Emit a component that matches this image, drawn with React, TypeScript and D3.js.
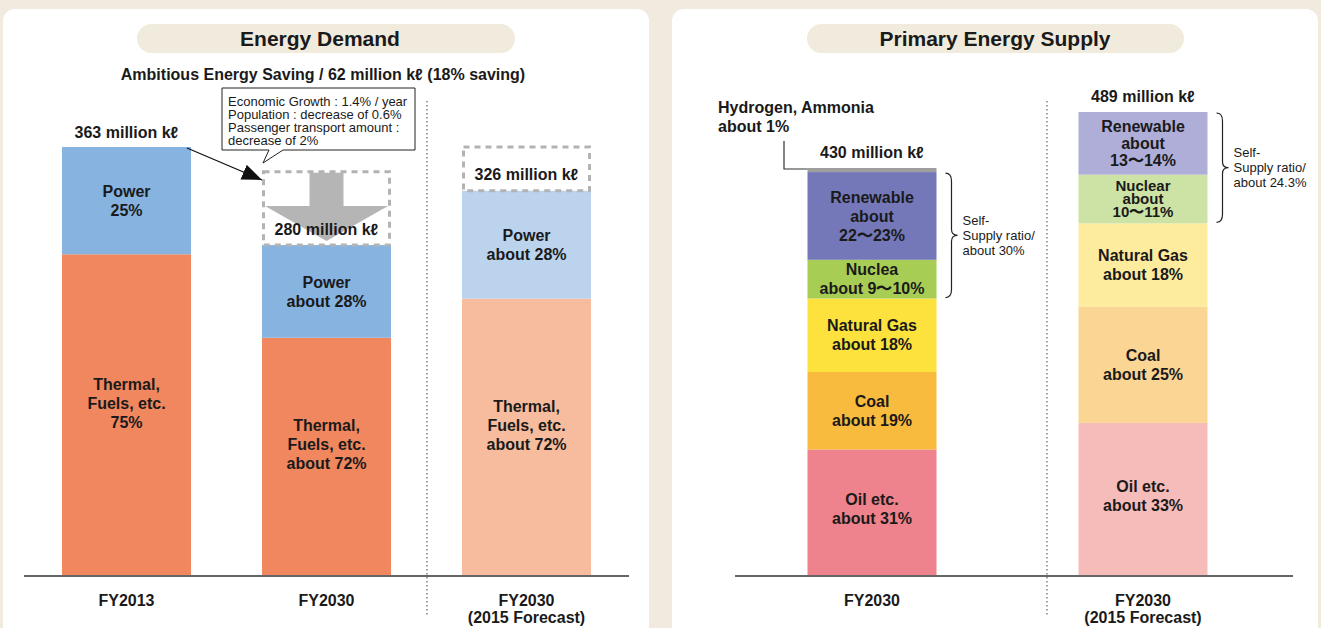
import React from "react";
import * as d3 from "d3";

// ---------- DATA ----------
const demandCategories = ["FY2013", "FY2030", "FY2030 (2015 Forecast)"];
const demandAxisLabels = [["FY2013"], ["FY2030"], ["FY2030", "(2015 Forecast)"]];
const demandTotals = [363, 280, 326];
const powerShare = [25, 28, 28];
const thermalShare = [75, 72, 72];
const demandRefLevels = [0, 342, 363];
const demandTotalLabels = ["363 million kℓ", "280 million kℓ", "326 million kℓ"];
const powerLabels = [["Power", "25%"], ["Power", "about 28%"], ["Power", "about 28%"]];
const thermalLabels = [
  ["Thermal,", "Fuels, etc.", "75%"],
  ["Thermal,", "Fuels, etc.", "about 72%"],
  ["Thermal,", "Fuels, etc.", "about 72%"],
];
const calloutLines = [
  "Economic Growth : 1.4% / year",
  "Population : decrease of 0.6%",
  "Passenger transport amount :",
  "decrease of 2%",
];

const supplyCategories = ["FY2030", "FY2030 (2015 Forecast)"];
const supplyAxisLabels = [["FY2030"], ["FY2030", "(2015 Forecast)"]];
const supplyTotals = [430, 489];
const supplyTotalLabels = ["430 million kℓ", "489 million kℓ"];
const oilShare = [31, 33];
const coalShare = [19, 25];
const gasShare = [18, 18];
const nuclearShare = [9.5, 10.5];
const renewableShare = [21.5, 13.5];
const hydrogenShare = [1, 0];
const oilLabels = [["Oil etc.", "about 31%"], ["Oil etc.", "about 33%"]];
const coalLabels = [["Coal", "about 19%"], ["Coal", "about 25%"]];
const gasLabels = [["Natural Gas", "about 18%"], ["Natural Gas", "about 18%"]];
const nuclearLabels = [["Nuclea", "about 9〜10%"], ["Nuclear", "about", "10〜11%"]];
const renewableLabels = [["Renewable", "about", "22〜23%"], ["Renewable", "about", "13〜14%"]];
const selfSupplyLabels = [["Self-", "Supply ratio/", "about 30%"], ["Self-", "Supply ratio/", "about 24.3%"]];

// ---------- STYLE ----------
const FONT = "'Liberation Sans', Arial, sans-serif";
const BG = "#f1ebdf";
const PILL = "#f1ebdd";
const TXT = "#1a1a1a";
const LBL = 16;
const demandColors = [
  { power: "#86b3e0", thermal: "#f0875e" },
  { power: "#86b3e0", thermal: "#f0875e" },
  { power: "#bcd3ee", thermal: "#f6bc9d" },
];
const supplyColors = [
  { oil: "#ee828d", coal: "#f9bb3d", gas: "#fde23e", nuclear: "#a8cd55", renewable: "#7478b8", hydrogen: "#9e9e9e" },
  { oil: "#f5bcb9", coal: "#fbd594", gas: "#fdeb9e", nuclear: "#cde3a5", renewable: "#aeaed8", hydrogen: "#9e9e9e" },
];

const BAR_W = 129;
const BASE = 576;

function Lines({ x, cy, lines, size = LBL, lh = 19, weight = "bold", anchor = "middle" }: any) {
  const n = lines.length;
  return (
    <text x={x} textAnchor={anchor} fontFamily={FONT} fontSize={size} fontWeight={weight} fill={TXT}>
      {lines.map((l: string, i: number) => (
        <tspan key={i} x={x} y={cy + (i - (n - 1) / 2) * lh} dy="0.35em">
          {l}
        </tspan>
      ))}
    </text>
  );
}

function Brace({ x, y0, y1, w }: any) {
  const ym = (y0 + y1) / 2;
  const h = w / 2;
  const d = `M${x},${y0} Q${x + h},${y0} ${x + h},${y0 + 8} L${x + h},${ym - 6} Q${x + h},${ym} ${x + w},${ym} Q${x + h},${ym} ${x + h},${ym + 6} L${x + h},${y1 - 8} Q${x + h},${y1} ${x},${y1}`;
  return <path d={d} fill="none" stroke="#222" strokeWidth={1.2} />;
}

export default function App() {
  const xL = d3.scalePoint<string>().domain(demandCategories).range([126.5, 526.5]);
  const yL = d3.scaleLinear().domain([0, 363]).range([BASE, 147]);
  const xR = d3.scalePoint<string>().domain(supplyCategories).range([872, 1143]);
  const yR = d3.scaleLinear().domain([0, 489]).range([BASE, 112]);

  const demandBars = demandCategories.map((c, i) => {
    const cx = xL(c)!;
    const total = demandTotals[i];
    const thermal = (total * thermalShare[i]) / 100;
    const power = (total * powerShare[i]) / 100;
    return { c, i, cx, x0: cx - BAR_W / 2, yTop: yL(total), yMid: yL(thermal), yPowerTop: yL(thermal + power) };
  });

  const supplyBars = supplyCategories.map((c, i) => {
    const cx = xR(c)!;
    const total = supplyTotals[i];
    const shares = [
      { key: "oil", v: oilShare[i], labels: oilLabels[i] },
      { key: "coal", v: coalShare[i], labels: coalLabels[i] },
      { key: "gas", v: gasShare[i], labels: gasLabels[i] },
      { key: "nuclear", v: nuclearShare[i], labels: nuclearLabels[i] },
      { key: "renewable", v: renewableShare[i], labels: renewableLabels[i] },
      { key: "hydrogen", v: hydrogenShare[i], labels: [] as string[] },
    ];
    let acc = 0;
    const segs = shares.map((s) => {
      const a = acc;
      acc += s.v;
      return { ...s, y0: yR((total * a) / 100), y1: yR((total * acc) / 100) };
    });
    return { c, i, cx, x0: cx - BAR_W / 2, segs, yTop: yR(total) };
  });

  return (
    <svg width={1321} height={628} style={{ position: "absolute", left: 0, top: 0, display: "block" }}>
      <defs>
        <marker id="ah2" viewBox="0 0 20 16" refX="20" refY="8" markerWidth="20" markerHeight="16" orient="auto" markerUnits="userSpaceOnUse">
          <path d="M0,0 L20,8 L0,16 z" fill="#111" />
        </marker>
      </defs>
      <rect x={0} y={0} width={1321} height={628} fill={BG} />
      <rect x={3} y={9} width={646} height={640} rx={12} fill="#fff" />
      <rect x={672} y={9} width={646} height={640} rx={12} fill="#fff" />

      {/* ===== LEFT PANEL ===== */}
      <rect x={137} y={24} width={378} height={29} rx={14.5} fill={PILL} />
      <text x={320} y={39} dy="0.35em" textAnchor="middle" fontFamily={FONT} fontSize={21} fontWeight="bold" fill={TXT}>
        Energy Demand
      </text>
      <text x={323} y={74} dy="0.35em" textAnchor="middle" fontFamily={FONT} fontSize={16} fontWeight="bold" fill={TXT}>
        Ambitious Energy Saving / 62 million kℓ (18% saving)
      </text>

      <line x1={427} x2={427} y1={101} y2={615} stroke="#a8a290" strokeWidth={2} strokeDasharray="1.5 2.5" />

      {demandBars.map((b) => (
        <g key={b.c}>
          <rect x={b.x0} y={b.yMid} width={BAR_W} height={BASE - b.yMid} fill={demandColors[b.i].thermal} />
          <rect x={b.x0} y={b.yPowerTop} width={BAR_W} height={b.yMid - b.yPowerTop} fill={demandColors[b.i].power} />
          {demandRefLevels[b.i] > 0 && (
            <rect
              x={b.x0 + 1.5}
              y={yL(demandRefLevels[b.i])}
              width={BAR_W - 3}
              height={b.yTop - yL(demandRefLevels[b.i])}
              fill="none"
              stroke="#b3b3b3"
              strokeWidth={3}
              strokeDasharray="6 5"
            />
          )}
          <Lines x={b.cx} cy={(b.yPowerTop + b.yMid) / 2} lines={powerLabels[b.i]} />
          <Lines x={b.cx} cy={(b.yMid + BASE) / 2 - 12} lines={thermalLabels[b.i]} />
          <Lines x={b.cx} cy={b.i === 2 ? 608.5 : 600} lines={demandAxisLabels[b.i]} size={16} lh={17} weight="bold" />
        </g>
      ))}

      {(() => {
        const b = demandBars[1];
        const top = yL(demandRefLevels[1]);
        const headY = 206;
        const tip = b.yTop - 4;
        const d = `M${b.cx - 17},${top + 1} L${b.cx + 17},${top + 1} L${b.cx + 17},${headY} L${b.x0 + BAR_W - 3},${headY} L${b.cx},${tip} L${b.x0 + 3},${headY} L${b.cx - 17},${headY} Z`;
        return <path d={d} fill="#b5b5b5" />;
      })()}

      <Lines x={demandBars[0].cx} cy={132} lines={[demandTotalLabels[0]]} />
      <Lines x={demandBars[1].cx} cy={229} lines={[demandTotalLabels[1]]} />
      <Lines x={demandBars[2].cx} cy={174} lines={[demandTotalLabels[2]]} />

      <line x1={187} y1={148} x2={262} y2={180} stroke="#111" strokeWidth={1.2} markerEnd="url(#ah2)" />

      <path d="M222,88 L415,88 L415,150 L283,150 L263,163 L269,150 L222,150 Z" fill="#fff" stroke="#222" strokeWidth={1} />
      {calloutLines.map((l, i) => (
        <text key={i} x={228} y={101 + i * 13.3} dy="0.35em" fontFamily={FONT} fontSize={13} fill={TXT}>
          {l}
        </text>
      ))}

      <line x1={24} x2={629} y1={BASE} y2={BASE} stroke="#666" strokeWidth={2} />

      {/* ===== RIGHT PANEL ===== */}
      <rect x={807} y={24} width={377} height={29} rx={14.5} fill={PILL} />
      <text x={995} y={39} dy="0.35em" textAnchor="middle" fontFamily={FONT} fontSize={21} fontWeight="bold" fill={TXT}>
        Primary Energy Supply
      </text>

      <line x1={1047} x2={1047} y1={101} y2={615} stroke="#a8a290" strokeWidth={2} strokeDasharray="1.5 2.5" />

      {supplyBars.map((b) => (
        <g key={b.c}>
          {b.segs.map((s) =>
            s.v > 0 ? (
              <rect key={s.key} x={b.x0} y={s.y1} width={BAR_W} height={s.y0 - s.y1} fill={(supplyColors[b.i] as any)[s.key]} />
            ) : null
          )}
          {b.segs.map((s) =>
            s.labels.length ? (
              <Lines
                key={"l" + s.key}
                x={b.cx}
                cy={(s.y0 + s.y1) / 2 + (s.key === "oil" ? -4 : 0)}
                lines={s.labels}
                size={b.i === 1 && s.key === "nuclear" ? 15 : LBL}
                lh={b.i === 1 && s.key === "nuclear" ? 13 : b.i === 1 && s.key === "renewable" ? 17 : 19}
              />
            ) : null
          )}
          <Lines x={b.cx} cy={b.i === 1 ? 608.5 : 600} lines={supplyAxisLabels[b.i]} size={16} lh={17} weight="bold" />
          <Lines x={b.cx} cy={b.yTop - 16} lines={[supplyTotalLabels[b.i]]} />
        </g>
      ))}

      <Lines x={718} cy={116.5} lines={["Hydrogen, Ammonia", "about 1%"]} anchor="start" lh={19} />
      <path
        d={`M784,141 L784,${supplyBars[0].yTop + 1} L${supplyBars[0].x0},${supplyBars[0].yTop + 1}`}
        fill="none"
        stroke="#333"
        strokeWidth={1.2}
      />

      {supplyBars.map((b) => {
        const nuc = b.segs.find((s) => s.key === "nuclear")!;
        const ren = b.segs.find((s) => s.key === "renewable")!;
        const x = b.x0 + BAR_W + 9;
        const y0 = ren.y1 + 1;
        const y1 = nuc.y0 - 1;
        return (
          <g key={"br" + b.c}>
            <Brace x={x} y0={y0} y1={y1} w={12} />
            <Lines x={x + 17} cy={(y0 + y1) / 2} lines={selfSupplyLabels[b.i]} size={13} lh={15} weight="normal" anchor="start" />
          </g>
        );
      })}

      <line x1={735} x2={1293} y1={BASE} y2={BASE} stroke="#666" strokeWidth={2} />
    </svg>
  );
}
